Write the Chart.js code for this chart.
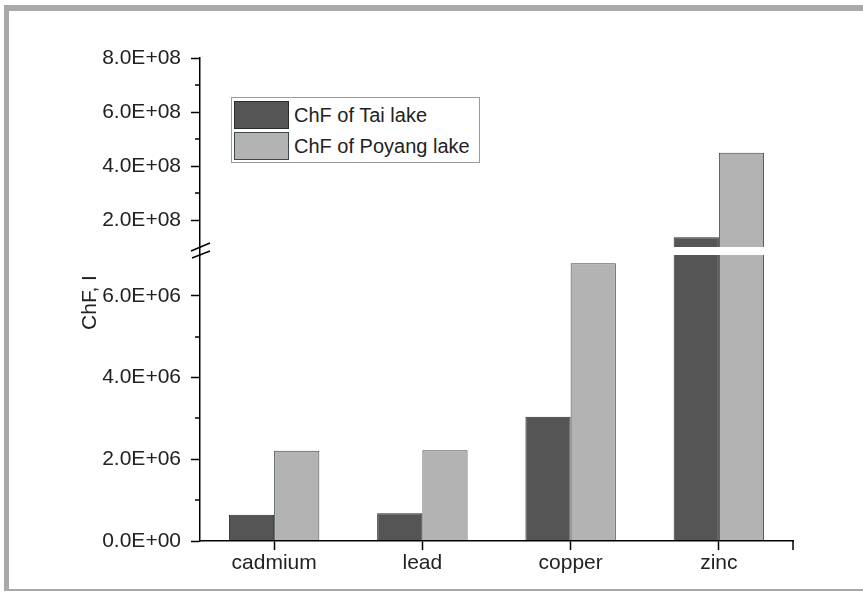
<!DOCTYPE html>
<html><head><meta charset="utf-8">
<script src="https://cdn.jsdelivr.net/npm/chart.js@4.4.1/dist/chart.umd.min.js"></script>
<style>
html,body{margin:0;padding:0;background:#fff;}
#wrap{position:relative;width:863px;height:592px;overflow:hidden;background:#fff;}
#frame{position:absolute;left:4px;top:5px;width:880px;height:578px;border-top:6px solid #a9a9a9;border-left:5px solid #a9a9a9;border-bottom:2px solid #a9a9a9;}
#c{position:absolute;left:0;top:0;}
#legend{position:absolute;left:231px;top:97px;width:247px;height:64px;border:1px solid #9a9a9a;background:#fff;font-family:"Liberation Sans",Arial,sans-serif;font-size:20px;color:#222;overflow:hidden;}
.row{position:absolute;left:2px;height:28px;white-space:nowrap;}
.sw{position:absolute;left:0;top:0;width:53px;height:26px;border:1px solid #333;}
.lt{position:absolute;left:60px;top:3px;line-height:22px;}
</style></head>
<body>
<div id="wrap">
  <div id="frame"></div>
  <canvas id="c" width="863" height="592"></canvas>
  <div id="legend"></div>
</div>
<script>
const categories = ['cadmium', 'lead', 'copper', 'zinc'];
const seriesNames = ['ChF of Tai lake', 'ChF of Poyang lake'];
const taiValues = [0.64e6, 0.68e6, 3.04e6, 1.36e8];
const poyangValues = [2.21e6, 2.22e6, 6.80e6, 4.49e8];
const lowerTicks = [0, 2e6, 4e6, 6e6];
const lowerMinor = [1e6, 3e6, 5e6];
const upperTicks = [2e8, 4e8, 6e8, 8e8];
const upperMinor = [3e8, 5e8, 7e8];

const fills = ['#555555', '#b3b3b3'];
const borders = ['#2b2b2b', '#3d4848'];
const FONT = '"Liberation Sans", Arial, sans-serif';

function sci(v) {
  if (v === 0) return '0.0E+00';
  const e = Math.floor(Math.log10(v) + 1e-9);
  const m = v / Math.pow(10, e);
  return m.toFixed(1) + 'E+' + String(e).padStart(2, '0');
}

const seriesData = [taiValues, poyangValues];
const datasets = [];
['yHigh', 'yLow'].forEach(axis => {
  seriesData.forEach((vals, i) => {
    datasets.push({
      label: seriesNames[i],
      data: vals,
      yAxisID: axis,
      stack: 's' + i,
      backgroundColor: fills[i],
      borderColor: borders[i],
      borderWidth: 1,
      barPercentage: 1,
      categoryPercentage: 0.61
    });
  });
});

const clipToScale = {
  id: 'clipToScale',
  beforeDatasetDraw(chart, args) {
    const m = args.meta, ctx = chart.ctx, a = chart.chartArea;
    ctx.save();
    ctx.beginPath();
    ctx.rect(a.left, m.yScale.top, a.right - a.left, m.yScale.bottom - m.yScale.top);
    ctx.clip();
  },
  afterDatasetDraw(chart) { chart.ctx.restore(); }
};

const decor = {
  id: 'decor',
  afterDraw(chart) {
    const ctx = chart.ctx;
    const {x, yHigh, yGap, yLow} = chart.scales;
    const ax = yLow.right;
    ctx.save();
    ctx.strokeStyle = '#000';
    ctx.lineWidth = 1.5;
    [[yHigh, upperMinor], [yLow, lowerMinor]].forEach(([s, arr]) => arr.forEach(v => {
      const p = Math.round(s.getPixelForValue(v));
      ctx.beginPath(); ctx.moveTo(ax - 5, p); ctx.lineTo(ax, p); ctx.stroke();
    }));
    ctx.beginPath(); ctx.moveTo(x.right, x.top); ctx.lineTo(x.right, x.top + 9); ctx.stroke();
    const gT = yGap.top, gB = yGap.bottom;
    ctx.lineWidth = 1.4;
    ctx.beginPath(); ctx.moveTo(ax - 9, gT + 4); ctx.lineTo(ax + 10, gT - 4); ctx.stroke();
    ctx.beginPath(); ctx.moveTo(ax - 8, gB + 3); ctx.lineTo(ax + 10, gB - 4); ctx.stroke();
    ctx.translate(96, (yHigh.top + yLow.bottom) / 2 + 3);
    ctx.rotate(-Math.PI / 2);
    ctx.font = '21px ' + FONT;
    ctx.fillStyle = '#222';
    ctx.textAlign = 'center';
    ctx.textBaseline = 'alphabetic';
    ctx.fillText('ChF, I', 0, 0);
    ctx.restore();
  }
};

const yCommon = {
  type: 'linear', position: 'left', stack: 'y', stacked: false,
  grid: {drawOnChartArea: false, drawTicks: true, tickLength: 9, tickColor: '#000', tickWidth: 1.5},
  border: {display: true, color: '#000', width: 1.5, z: 1},
  ticks: {callback: v => sci(v), padding: 10, color: '#222', font: {family: FONT, size: 21}},
  afterFit: s => { s.width = 200; }
};

new Chart(document.getElementById('c'), {
  type: 'bar',
  data: {labels: categories, datasets},
  plugins: [clipToScale, decor],
  options: {
    responsive: false,
    animation: false,
    layout: {padding: {top: 58, right: 70, bottom: 0, left: 0}},
    plugins: {legend: {display: false}, tooltip: {enabled: false}},
    scales: {
      x: {
        type: 'category', offset: true,
        grid: {offset: false, drawOnChartArea: false, drawTicks: true, tickLength: 9, tickColor: '#000', tickWidth: 1.5},
        border: {color: '#000', width: 1.5, z: 1},
        ticks: {color: '#222', padding: 1, font: {family: FONT, size: 21}},
        afterFit: s => { s.height = 51; }
      },
      yHigh: Object.assign({}, yCommon, {
        weight: 2, stackWeight: 189, min: 1e8, max: 8e8,
        afterBuildTicks: s => { s.ticks = upperTicks.map(v => ({value: v})); }
      }),
      yGap: {
        type: 'linear', position: 'left', stack: 'y', weight: 1, stackWeight: 8, min: 0, max: 1,
        grid: {display: false}, ticks: {display: false},
        border: {display: true, color: '#000', width: 1.5, z: 1},
        afterFit: s => { s.width = 200; }
      },
      yLow: Object.assign({}, yCommon, {
        weight: 0, stackWeight: 286, min: 0, max: 7e6,
        afterBuildTicks: s => { s.ticks = lowerTicks.map(v => ({value: v})); }
      })
    }
  }
});

const legend = document.getElementById('legend');
seriesNames.forEach((name, i) => {
  const row = document.createElement('div');
  row.className = 'row';
  row.style.top = (3 + i * 31) + 'px';
  const sw = document.createElement('div');
  sw.className = 'sw';
  sw.style.background = fills[i];
  sw.style.borderColor = borders[i];
  const t = document.createElement('div');
  t.className = 'lt';
  t.textContent = name;
  row.appendChild(sw); row.appendChild(t);
  legend.appendChild(row);
});
</script>
</body></html>
